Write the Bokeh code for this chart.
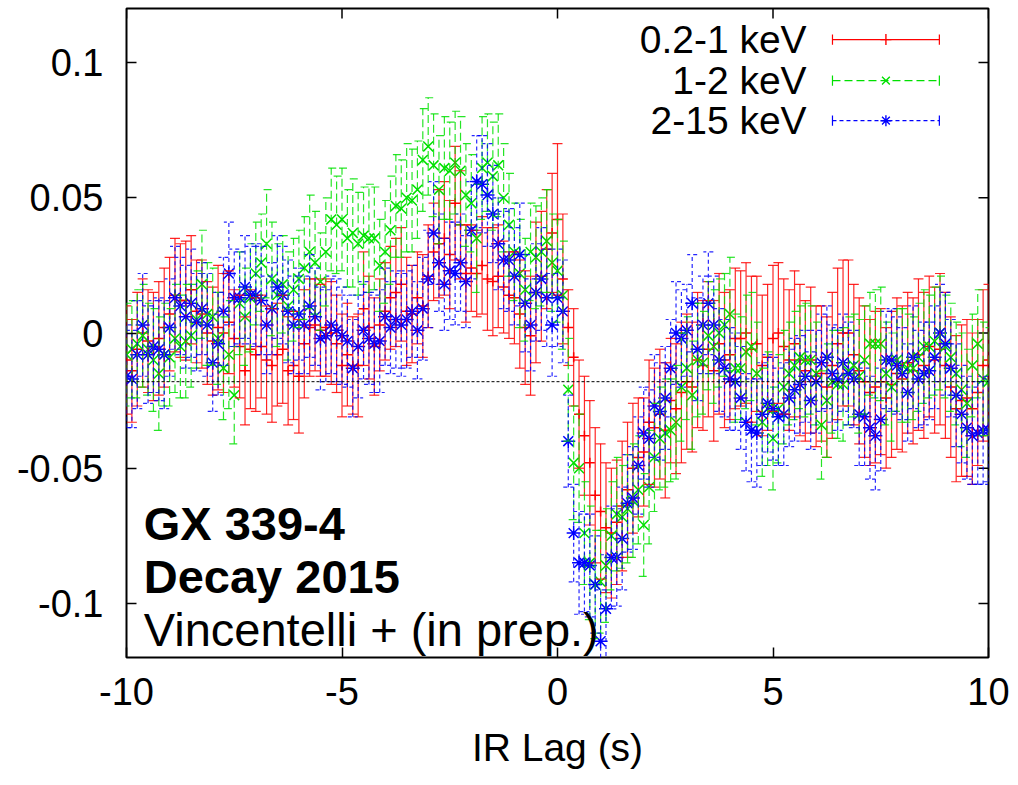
import numpy as np
from bokeh.plotting import figure
from bokeh.models import (ColumnDataSource, Whisker, TeeHead, Span, Label,
                          FixedTicker, Range1d)
from bokeh.embed import file_html
from bokeh.resources import INLINE

# ---------------- data ----------------
# lag bins (s), 0.125 s spacing
lag = np.linspace(-10.0, 10.0, 161)

series_labels = ["0.2-1 keV", "1-2 keV", "2-15 keV"]

soft = [
    -0.010, -0.014, -0.006, 0.000, -0.003, -0.005, -0.002, 0.002, 0.007, 0.014,
    0.012, 0.012, 0.016, 0.008, 0.007, 0.000, -0.003, 0.002, 0.000, 0.004,
    -0.002, -0.005, -0.014, -0.006, -0.008, -0.005, -0.010, -0.012, -0.008, -0.006,
    -0.014, -0.012, -0.016, -0.004, 0.002, 0.003, 0.001, 0.002, 0.000, -0.004,
    -0.012, -0.008, -0.012, -0.012, 0.009, 0.002, -0.005, 0.003, 0.008, 0.013,
    0.015, 0.018, 0.008, 0.007, 0.013, 0.010, 0.021, 0.030, 0.033, 0.035,
    0.029, 0.048, 0.040, 0.022, 0.024, 0.022, 0.025, 0.020, 0.019, 0.021,
    0.017, 0.014, 0.013, 0.007, 0.002, -0.001, 0.015, 0.021, 0.031, 0.037,
    0.042, 0.020, 0.002, -0.009, -0.030, -0.038, -0.048, -0.060, -0.066, -0.072,
    -0.074, -0.070, -0.064, -0.058, -0.050, -0.046, -0.044, -0.033, -0.035, -0.030,
    -0.036, -0.025, -0.028, -0.022, -0.018, -0.020, -0.010, -0.012, -0.006, -0.014,
    -0.004, -0.010, -0.008, -0.002, -0.002, 0.000, -0.006, -0.004, -0.012, -0.009,
    -0.002, 0.000, -0.005, -0.010, -0.004, -0.010, -0.014, -0.010, -0.016, -0.015,
    -0.020, -0.012, -0.004, 0.000, 0.000, -0.008, -0.014, -0.018, -0.022, -0.020,
    -0.018, -0.024, -0.019, -0.015, -0.017, -0.011, -0.014, -0.008, -0.012, -0.005,
    -0.010, -0.006, -0.012, -0.020, -0.028, -0.025, -0.024, -0.028, -0.022, -0.012,
    -0.010,
]
soft_err = [
    0.020, 0.019, 0.021, 0.020, 0.019, 0.020, 0.021, 0.022, 0.021, 0.021,
    0.021, 0.022, 0.020, 0.019, 0.020, 0.019, 0.020, 0.023, 0.022, 0.019,
    0.018, 0.019, 0.020, 0.022, 0.021, 0.019, 0.020, 0.021, 0.019, 0.020,
    0.020, 0.020, 0.021, 0.020, 0.018, 0.017, 0.017, 0.018, 0.019, 0.018,
    0.019, 0.019, 0.018, 0.019, 0.021, 0.019, 0.018, 0.017, 0.018, 0.019,
    0.020, 0.021, 0.020, 0.018, 0.017, 0.019, 0.019, 0.018, 0.020, 0.021,
    0.020, 0.021, 0.020, 0.018, 0.016, 0.016, 0.018, 0.019, 0.020, 0.019,
    0.017, 0.016, 0.017, 0.020, 0.021, 0.022, 0.026, 0.024, 0.022, 0.022,
    0.028, 0.024, 0.014, 0.018, 0.020, 0.022, 0.023, 0.025, 0.025, 0.024,
    0.024, 0.023, 0.024, 0.025, 0.024, 0.022, 0.020, 0.023, 0.022, 0.024,
    0.025, 0.023, 0.024, 0.026, 0.025, 0.024, 0.025, 0.024, 0.025, 0.026,
    0.026, 0.025, 0.024, 0.026, 0.025, 0.026, 0.027, 0.025, 0.026, 0.027,
    0.027, 0.026, 0.025, 0.026, 0.027, 0.028, 0.026, 0.027, 0.026, 0.025,
    0.026, 0.027, 0.028, 0.027, 0.027, 0.026, 0.027, 0.028, 0.027, 0.028,
    0.027, 0.026, 0.027, 0.028, 0.027, 0.026, 0.027, 0.028, 0.027, 0.026,
    0.027, 0.028, 0.027, 0.026, 0.027, 0.028, 0.029, 0.028, 0.027, 0.028,
    0.028,
]

mid = [
    -0.008, -0.006, -0.004, -0.001, -0.006, -0.010, -0.015, -0.008, -0.009, -0.002,
    -0.005, -0.003, -0.001, 0.005, 0.018, 0.007, 0.006, -0.002, -0.013, -0.008,
    -0.023, 0.011, 0.006, 0.013, 0.022, 0.026, 0.033, 0.020, 0.014, 0.018,
    0.010, 0.016, 0.020, 0.024, 0.030, 0.026, 0.019, 0.030, 0.042, 0.040,
    0.042, 0.035, 0.037, 0.033, 0.036, 0.035, 0.035, 0.025, 0.030, 0.038,
    0.047, 0.046, 0.050, 0.049, 0.053, 0.064, 0.069, 0.062, 0.053, 0.061,
    0.060, 0.063, 0.060, 0.051, 0.048, 0.035, 0.061, 0.063, 0.058, 0.062,
    0.050, 0.040, 0.030, 0.022, 0.016, 0.030, 0.028, 0.030, 0.034, 0.026,
    0.023, 0.014, -0.021, -0.048, -0.050, -0.074, -0.085, -0.093, -0.092, -0.086,
    -0.075, -0.067, -0.068, -0.065, -0.062, -0.058, -0.071, -0.057, -0.046, -0.039,
    -0.037, -0.036, -0.033, -0.020, -0.013, -0.023, -0.010, -0.011, -0.001, -0.005,
    0.000, 0.003, 0.007, -0.013, -0.013, -0.007, -0.005, -0.015, -0.033, -0.028,
    -0.039, -0.028, -0.020, -0.015, -0.012, -0.009, -0.010, -0.010, -0.015, -0.034,
    -0.025, -0.018, -0.019, -0.019, -0.014, -0.012, -0.016, -0.010, -0.004, -0.004,
    -0.004, -0.015, -0.020, -0.010, -0.012, -0.013, -0.013, -0.009, -0.005, -0.005,
    -0.003, 0.000, -0.005, -0.009, -0.015, -0.021, -0.026, -0.012, -0.004, -0.017,
    -0.018,
]
mid_err = [
    0.019, 0.018, 0.020, 0.019, 0.017, 0.019, 0.021, 0.019, 0.018, 0.020,
    0.019, 0.021, 0.019, 0.018, 0.020, 0.019, 0.018, 0.017, 0.019, 0.020,
    0.018, 0.019, 0.018, 0.020, 0.019, 0.018, 0.020, 0.021, 0.019, 0.018,
    0.020, 0.019, 0.018, 0.019, 0.021, 0.019, 0.018, 0.020, 0.019, 0.018,
    0.019, 0.018, 0.020, 0.019, 0.018, 0.020, 0.019, 0.017, 0.019, 0.020,
    0.019, 0.018, 0.020, 0.019, 0.018, 0.019, 0.018, 0.019, 0.020, 0.019,
    0.018, 0.019, 0.020, 0.019, 0.018, 0.020, 0.019, 0.018, 0.020, 0.019,
    0.020, 0.019, 0.018, 0.020, 0.019, 0.018, 0.019, 0.020, 0.019, 0.018,
    0.019, 0.020, 0.019, 0.021, 0.020, 0.019, 0.021, 0.020, 0.019, 0.021,
    0.020, 0.021, 0.019, 0.020, 0.021, 0.020, 0.019, 0.021, 0.020, 0.019,
    0.020, 0.019, 0.021, 0.020, 0.019, 0.020, 0.021, 0.019, 0.020, 0.021,
    0.020, 0.019, 0.021, 0.020, 0.019, 0.021, 0.020, 0.019, 0.020, 0.021,
    0.019, 0.020, 0.021, 0.019, 0.020, 0.019, 0.021, 0.020, 0.019, 0.020,
    0.021, 0.019, 0.020, 0.021, 0.020, 0.019, 0.021, 0.020, 0.019, 0.020,
    0.021, 0.019, 0.020, 0.019, 0.021, 0.020, 0.019, 0.020, 0.021, 0.019,
    0.020, 0.021, 0.019, 0.020, 0.019, 0.021, 0.020, 0.019, 0.020, 0.021,
    0.020,
]

hard = [
    -0.016, -0.017, -0.008, 0.003, -0.008, -0.005, -0.006, -0.008, 0.002, 0.013,
    0.010, 0.006, 0.011, 0.004, 0.009, 0.003, -0.011, -0.004, 0.008, 0.022,
    0.013, 0.013, 0.017, 0.014, 0.014, 0.012, 0.003, 0.009, 0.017, 0.014,
    0.008, 0.003, 0.007, 0.003, 0.010, 0.006, -0.002, -0.001, 0.003, 0.001,
    -0.001, -0.003, -0.013, -0.005, 0.001, -0.002, -0.004, -0.003, 0.006, 0.002,
    0.005, 0.003, 0.005, 0.008, 0.001, 0.009, 0.020, 0.037, 0.026, 0.018,
    0.023, 0.022, 0.026, 0.019, 0.038, 0.056, 0.055, 0.051, 0.044, 0.033,
    0.027, 0.027, 0.021, 0.029, 0.011, 0.003, 0.015, 0.020, 0.013, 0.003,
    0.013, 0.008, -0.040, -0.074, -0.085, -0.085, -0.086, -0.093, -0.114, -0.102,
    -0.083, -0.083, -0.076, -0.063, -0.061, -0.049, -0.037, -0.039, -0.027, -0.029,
    -0.024, -0.013, 0.000, -0.002, 0.001, 0.011, -0.006, 0.003, 0.011, 0.003,
    -0.010, -0.013, -0.017, -0.018, -0.024, -0.033, -0.036, -0.037, -0.030, -0.026,
    -0.028, -0.031, -0.030, -0.024, -0.021, -0.019, -0.016, -0.025, -0.018, -0.011,
    -0.009, -0.015, -0.017, -0.011, -0.015, -0.017, -0.030, -0.031, -0.035, -0.038,
    -0.032, -0.010, -0.010, -0.012, -0.015, -0.022, -0.009, -0.017, -0.015, -0.014,
    -0.009, 0.000, -0.004, -0.013, -0.023, -0.030, -0.035, -0.038, -0.037, -0.036,
    -0.036,
]
hard_err = [
    0.019, 0.018, 0.020, 0.019, 0.018, 0.017, 0.019, 0.020, 0.018, 0.019,
    0.018, 0.019, 0.020, 0.018, 0.017, 0.019, 0.018, 0.019, 0.020, 0.019,
    0.018, 0.017, 0.019, 0.018, 0.019, 0.020, 0.018, 0.017, 0.019, 0.018,
    0.019, 0.018, 0.017, 0.018, 0.019, 0.018, 0.019, 0.017, 0.018, 0.019,
    0.018, 0.017, 0.018, 0.019, 0.018, 0.017, 0.018, 0.019, 0.018, 0.017,
    0.018, 0.019, 0.018, 0.017, 0.018, 0.019, 0.018, 0.019, 0.018, 0.017,
    0.018, 0.019, 0.018, 0.017, 0.018, 0.017, 0.018, 0.019, 0.018, 0.017,
    0.018, 0.019, 0.018, 0.019, 0.018, 0.017, 0.018, 0.019, 0.018, 0.019,
    0.018, 0.019, 0.017, 0.018, 0.019, 0.018, 0.019, 0.018, 0.019, 0.020,
    0.019, 0.018, 0.019, 0.018, 0.019, 0.018, 0.017, 0.018, 0.019, 0.018,
    0.019, 0.018, 0.019, 0.018, 0.017, 0.018, 0.019, 0.018, 0.019, 0.018,
    0.019, 0.018, 0.019, 0.018, 0.019, 0.018, 0.019, 0.020, 0.019, 0.018,
    0.019, 0.018, 0.019, 0.018, 0.019, 0.018, 0.017, 0.018, 0.019, 0.018,
    0.019, 0.018, 0.019, 0.018, 0.019, 0.018, 0.019, 0.018, 0.019, 0.020,
    0.019, 0.018, 0.019, 0.018, 0.017, 0.018, 0.019, 0.018, 0.019, 0.018,
    0.019, 0.018, 0.019, 0.018, 0.019, 0.018, 0.019, 0.018, 0.019, 0.020,
    0.019,
]

x_ticks = [-10, -5, 0, 5, 10]
x_tick_labels = ["-10", "-5", "0", "5", "10"]
y_ticks = [-0.1, -0.05, 0.0, 0.05, 0.1]
y_tick_labels = ["-0.1", "-0.05", "0", "0.05", "0.1"]
mean_level = -0.018
notes = ["GX 339-4", "Decay 2015", "Vincentelli + (in prep.)"]
x_title = "IR Lag (s)"

# ---------------- styling ----------------
FONT = "Liberation Sans"
X_MIN, X_MAX, Y_MIN, Y_MAX = -10, 10, -0.12, 0.12
colors = ["#ff0000", "#00e000", "#0000ff"]
dashes = ["solid", "8 4", "4 3"]
markers = ["cross", "x", "asterisk"]
msizes = [10, 14, 14]

p = figure(width=1018, height=785, x_range=Range1d(X_MIN, X_MAX), y_range=Range1d(Y_MIN, Y_MAX),
           output_backend="svg", toolbar_location=None,
           min_border_left=126, min_border_right=30, min_border_top=8, min_border_bottom=128)
p.background_fill_color = "white"
p.border_fill_color = "white"
p.outline_line_color = "black"
p.outline_line_width = 2
p.xgrid.visible = False
p.ygrid.visible = False

for ax in p.xaxis:
    ax.ticker = FixedTicker(ticks=x_ticks)
    ax.major_label_overrides = dict(zip(x_ticks, x_tick_labels))
for ax in p.yaxis:
    ax.ticker = FixedTicker(ticks=y_ticks)
    ax.major_label_overrides = dict(zip(y_ticks, y_tick_labels))

for ax in list(p.xaxis) + list(p.yaxis):
    ax.axis_line_color = None
    ax.major_tick_in = 10
    ax.major_tick_out = 0
    ax.minor_tick_in = 0
    ax.minor_tick_out = 0
    ax.major_tick_line_color = "black"
    ax.major_tick_line_width = 1.5
    ax.major_label_text_font = FONT
    ax.major_label_text_font_size = "38px"
    ax.major_label_text_color = "black"

p.yaxis.major_label_standoff = 23
p.xaxis.major_label_standoff = 20
p.xaxis.axis_label = x_title
p.xaxis.axis_label_text_font = FONT
p.xaxis.axis_label_text_font_size = "39px"
p.xaxis.axis_label_text_font_style = "normal"
p.xaxis.axis_label_text_color = "black"
p.xaxis.axis_label_standoff = 18

# mirror ticks on top and right edges (10 px long, inward)
tick_dx = (X_MAX - X_MIN) * 10 / 862.0
tick_dy = (Y_MAX - Y_MIN) * 10 / 649.0
p.segment(x0=x_ticks, y0=[Y_MAX] * len(x_ticks), x1=x_ticks, y1=[Y_MAX - tick_dy] * len(x_ticks),
          line_color="black", line_width=1.5)
p.segment(x0=[X_MAX] * len(y_ticks), y0=y_ticks, x1=[X_MAX - tick_dx] * len(y_ticks), y1=y_ticks,
          line_color="black", line_width=1.5)

# ---------------- data series ----------------
all_series = [(soft, soft_err), (mid, mid_err), (hard, hard_err)]
for (vals, errs), c, d, m, s in zip(all_series, colors, dashes, markers, msizes):
    v = np.array(vals)
    e = np.array(errs)
    src = ColumnDataSource(data=dict(x=lag, y=v, lo=v - e, hi=v + e))
    w = Whisker(source=src, base="x", upper="hi", lower="lo", dimension="height",
                line_color=c, line_width=1.2, line_dash=d, line_alpha=0.85,
                upper_head=TeeHead(size=10, line_color=c, line_width=1.2, line_dash=d, line_alpha=0.85),
                lower_head=TeeHead(size=10, line_color=c, line_width=1.2, line_dash=d, line_alpha=0.85))
    w.level = "glyph"
    p.add_layout(w)
    p.scatter("x", "y", source=src, marker=m, size=s, line_color=c, line_width=1.5, fill_color=None)

p.add_layout(Span(location=mean_level, dimension="width", line_color="black",
                  line_width=1, line_dash="3 2"))

# ---------------- legend (drawn by hand, gnuplot-style) ----------------
leg_text_x = 5.78
leg_x0, leg_x1, leg_xm = 6.38, 8.86, 7.62
leg_rows = [0.1085, 0.0933, 0.0785]
cap_h = 0.0019
for lab, row, c, d, m, s in zip(series_labels, leg_rows, colors, dashes, markers, msizes):
    p.add_layout(Label(x=leg_text_x, y=row, text=lab, text_align="right", text_baseline="middle",
                       text_font=FONT, text_font_size="39px", text_color="black"))
    p.segment(x0=[leg_x0], y0=[row], x1=[leg_x1], y1=[row], line_color=c, line_width=1.2, line_dash=d)
    p.segment(x0=[leg_x0, leg_x1], y0=[row - cap_h] * 2, x1=[leg_x0, leg_x1], y1=[row + cap_h] * 2,
              line_color=c, line_width=1.2)
    p.scatter(x=[leg_xm], y=[row], marker=m, size=11, line_color=c, line_width=1.4, fill_color=None)

# ---------------- annotation ----------------
note_x = -9.6
note_y = [-0.0704, -0.0900, -0.1096]
note_style = ["bold", "bold", "normal"]
for txt, yy, st in zip(notes, note_y, note_style):
    p.add_layout(Label(x=note_x, y=yy, text=txt, text_align="left", text_baseline="alphabetic",
                       text_font=FONT, text_font_size="47px", text_font_style=st, text_color="black"))

open("out.html", "w").write(file_html(p, INLINE))
